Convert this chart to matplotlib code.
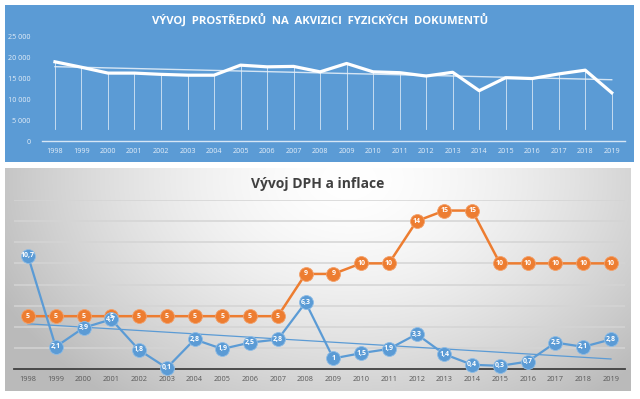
import numpy as np
import matplotlib
matplotlib.use("Agg")
import matplotlib.pyplot as plt

plt.rcParams['font.family'] = ['Open Sans', 'DejaVu Sans']

years = [str(y) for y in range(1998, 2020)]
funds = [19000, 17700, 16300, 16300, 16000, 15800, 15800, 18200, 17800, 17900,
         16600, 18600, 16600, 16400, 15600, 16500, 12100, 15200, 15000, 16100,
         17000, 11600]
dph = [5, 5, 5, 5, 5, 5, 5, 5, 5, 5, 9, 9, 10, 10, 14, 15, 15, 10, 10, 10, 10, 10]
inflace = [10.7, 2.1, 3.9, 4.7, 1.8, 0.1, 2.8, 1.9, 2.5, 2.8, 6.3, 1, 1.5, 1.9,
           3.3, 1.4, 0.4, 0.3, 0.7, 2.5, 2.1, 2.8]
top_yticks = [0, 5000, 10000, 15000, 20000, 25000]

W, H = 640, 399
fig = plt.figure(figsize=(W / 100, H / 100), dpi=100)
fig.patch.set_facecolor('white')

def fx(px):
    return px / W

def fy(py):
    return (H - py) / H

BLUE_BG = '#5B9BD5'
ORANGE = '#ED7D31'
BLUE = '#5B9BD5'

# ---------- top panel ----------
axtop_bg = fig.add_axes([fx(5), fy(162), fx(634) - fx(5), fy(5) - fy(162)])
axtop_bg.set_facecolor(BLUE_BG)
axtop_bg.set_xticks([])
axtop_bg.set_yticks([])
for s in axtop_bg.spines.values():
    s.set_visible(False)

ax1 = fig.add_axes([fx(41.7), fy(141.3), fx(625) - fx(41.7), fy(36.7) - fy(141.3)])
ax1.set_facecolor('none')
x = np.arange(len(years))
ax1.set_xlim(-0.5, len(years) - 0.5)
ax1.set_ylim(0, 25000)
for xi, v in zip(x, funds):
    ax1.plot([xi, xi], [3000, v], color='white', lw=0.6, alpha=0.75, zorder=1)
k1, b1 = np.polyfit(x, funds, 1)
ax1.plot(x, k1 * x + b1, color='#E3EEF8', lw=1.0, alpha=0.9, zorder=2)
ax1.plot(x, funds, color='white', lw=2.3, zorder=3, solid_joinstyle='round')
ax1.set_yticks(top_yticks)
ax1.set_yticklabels([f"{t:,}".replace(',', ' ') for t in top_yticks])
ax1.set_xticks(x)
ax1.set_xticklabels(years)
for s in ['top', 'right', 'left']:
    ax1.spines[s].set_visible(False)
ax1.spines['bottom'].set_color('#D6E6F5')
ax1.spines['bottom'].set_linewidth(1.0)
ax1.tick_params(axis='both', length=0, labelsize=5.2, colors='#E4EEF8')
ax1.tick_params(axis='x', pad=5)
ax1.tick_params(axis='y', pad=8)
fig.text(fx(320), fy(20), 'VÝVOJ  PROSTŘEDKŮ  NA  AKVIZICI  FYZICKÝCH  DOKUMENTŮ',
         ha='center', va='center', color='white', fontsize=8.1, fontweight='bold')

# ---------- bottom panel ----------
x0, x1p, y0, y1p = 5, 631, 168, 391
axbg = fig.add_axes([fx(x0), fy(y1p), fx(x1p) - fx(x0), fy(y0) - fy(y1p)])
gw, gh = 400, 150
gx, gy = np.meshgrid(np.linspace(0, 1, gw), np.linspace(0, 1, gh))
d = np.sqrt(((gx - 0.55) / 0.62) ** 2 + ((gy - 0.05) / 1.25) ** 2)
val = 1 - 0.27 * np.clip(d, 0, 1) ** 1.6
img = np.dstack([val, val, val])
axbg.imshow(img, aspect='auto', extent=[0, 1, 1, 0], interpolation='bilinear')
axbg.set_xlim(0, 1)
axbg.set_ylim(1, 0)
axbg.axis('off')

ax2 = fig.add_axes([fx(14.1), fy(369), fx(624.9) - fx(14.1), fy(200) - fy(369)])
ax2.set_facecolor('none')
ax2.set_xlim(-0.5, len(years) - 0.5)
ax2.set_ylim(0, 16)
for g in range(2, 17, 2):
    ax2.axhline(g, color='#D4D4D4', lw=1.1, zorder=0)
ax2.plot(x, dph, color=ORANGE, lw=1.8, zorder=3, marker='o', ms=10,
         mfc=ORANGE, mec='#F2A06A', mew=0.6, clip_on=False)
ax2.plot(x, inflace, color=BLUE, lw=1.6, zorder=4, marker='o', ms=10,
         mfc=BLUE, mec='#8DBCE6', mew=0.6, clip_on=False)
k2, b2 = np.polyfit(x, inflace, 1)
ax2.plot(x, k2 * x + b2, color=BLUE, lw=0.9, zorder=2)

def fmt(v):
    s = f"{v:g}"
    return s.replace('.', ',')

for xi, v in zip(x, dph):
    ax2.text(xi, v, fmt(v), ha='center', va='center', color='white',
             fontsize=5, fontweight='bold', zorder=6, clip_on=False)
for xi, v in zip(x, inflace):
    ax2.text(xi, v, fmt(v), ha='center', va='center', color='white',
             fontsize=5, fontweight='bold', zorder=7, clip_on=False)

ax2.set_xticks(x)
ax2.set_xticklabels(years)
ax2.set_yticks([])
for s in ['top', 'right', 'left']:
    ax2.spines[s].set_visible(False)
ax2.spines['bottom'].set_color('#404040')
ax2.spines['bottom'].set_linewidth(1.3)
ax2.spines['bottom'].set_zorder(1)
ax2.tick_params(axis='x', length=0, labelsize=5.3, colors='#595959', pad=5)
fig.text(fx(318), fy(184), 'Vývoj DPH a inflace', ha='center', va='center',
         color='#404040', fontsize=10, fontweight='bold')

fig.savefig('out.png', dpi=100)
